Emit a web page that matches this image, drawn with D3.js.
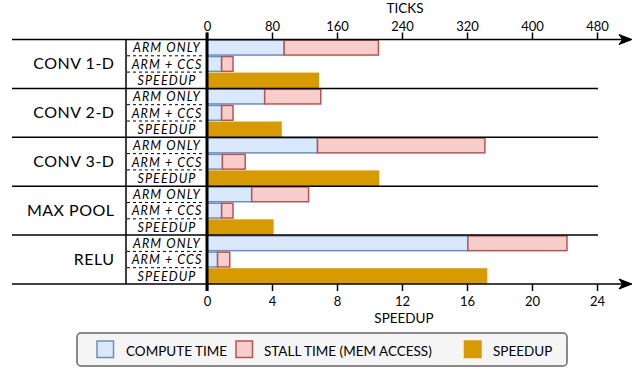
<!DOCTYPE html>
<html>
<head>
<meta charset="utf-8">
<script src="https://cdn.jsdelivr.net/npm/d3@7"></script>
<style>
  body { margin: 0; background: #fff; }
  svg { display: block; font-family: Lato, "Open Sans", sans-serif; }
</style>
</head>
<body>
<svg id="chart" width="641" height="370"></svg>
<script>
// Kernels and the three rows shown for each
const groups = ["CONV 1-D", "CONV 2-D", "CONV 3-D", "MAX POOL", "RELU"];
const rowLabels = ["ARM ONLY", "ARM + CCS", "SPEEDUP"];

// Execution time in ticks: compute part and memory stall part
const armOnlyCompute = [95, 71, 136, 55, 321];
const armOnlyStall   = [116, 69, 206, 70, 122];
const ccsCompute     = [18, 18, 19, 18, 13];
const ccsStall       = [14, 14, 28, 14, 15];

// Speedup of ARM + CCS over ARM only
const speedup = [6.9, 4.6, 10.6, 4.1, 17.25];

// Axis ticks
const tickValues = [0, 80, 160, 240, 320, 400, 480];
const speedupTicks = [0, 4, 8, 12, 16, 20, 24];

const legendItems = ["COMPUTE TIME", "STALL TIME (MEM ACCESS)", "SPEEDUP"];

const colors = {
  computeFill: "#dae8fc", computeStroke: "#6c8ebf",
  stallFill: "#f8cecc", stallStroke: "#b85450",
  speedup: "#d79b00"
};

const svg = d3.select("#chart");

const xT = d3.scaleLinear().domain([0, 480]).range([207, 597]);
const xS = d3.scaleLinear().domain([0, 24]).range([207, 597]);
const yG = d3.scaleBand().domain(groups).range([39.5, 284]);
const yR = d3.scaleBand().domain(rowLabels).range([0, yG.bandwidth()]);

const lineLeft = 12, lineRight = 598, labelX = 126, axisX = xT(0);

// Bars
const barsG = svg.append("g");
groups.forEach((g, i) => {
  const y0 = yG(g);
  const segs = [
    { row: "ARM ONLY", from: 0, to: armOnlyCompute[i], fill: colors.computeFill, stroke: colors.computeStroke },
    { row: "ARM ONLY", from: armOnlyCompute[i], to: armOnlyCompute[i] + armOnlyStall[i], fill: colors.stallFill, stroke: colors.stallStroke },
    { row: "ARM + CCS", from: 0, to: ccsCompute[i], fill: colors.computeFill, stroke: colors.computeStroke },
    { row: "ARM + CCS", from: ccsCompute[i], to: ccsCompute[i] + ccsStall[i], fill: colors.stallFill, stroke: colors.stallStroke }
  ];
  barsG.selectAll(null).data(segs).enter().append("rect")
    .attr("x", d => xT(d.from))
    .attr("y", d => y0 + yR(d.row) + 0.75)
    .attr("width", d => xT(d.to) - xT(d.from))
    .attr("height", yR.bandwidth() - 1.5)
    .attr("fill", d => d.fill)
    .attr("stroke", d => d.stroke)
    .attr("stroke-width", 1.5);
  barsG.append("rect")
    .attr("x", xS(0))
    .attr("y", y0 + yR("SPEEDUP") + 0.5)
    .attr("width", xS(speedup[i]) - xS(0))
    .attr("height", yR.bandwidth() - 0.5)
    .attr("fill", colors.speedup);
});

// Group separators
svg.append("g").selectAll("line").data(groups.slice(1)).enter().append("line")
  .attr("x1", lineLeft).attr("x2", lineRight)
  .attr("y1", d => yG(d)).attr("y2", d => yG(d))
  .attr("stroke", "#000").attr("stroke-width", 1.5);

// Dashed row separators inside the label column
const dashG = svg.append("g");
groups.forEach(g => {
  ["ARM + CCS", "SPEEDUP"].forEach(r => {
    const y = yG(g) + yR(r);
    dashG.append("line")
      .attr("x1", labelX + 1).attr("x2", axisX - 3)
      .attr("y1", y).attr("y2", y)
      .attr("stroke", "#000").attr("stroke-width", 1)
      .attr("stroke-dasharray", "3,3");
  });
});

// Label column border
svg.append("line")
  .attr("x1", labelX).attr("x2", labelX)
  .attr("y1", yG.range()[0]).attr("y2", yG.range()[1])
  .attr("stroke", "#000").attr("stroke-width", 1.5);

// Group labels
svg.append("g").selectAll("text").data(groups).enter().append("text")
  .attr("x", 114.5)
  .attr("y", d => yG(d) + yG.bandwidth() / 2 + 5.5)
  .attr("text-anchor", "end")
  .attr("font-size", 16)
  .attr("letter-spacing", 0.5)
  .text(d => d);

// Row labels
const rowG = svg.append("g");
groups.forEach(g => {
  rowG.selectAll(null).data(rowLabels).enter().append("text")
    .attr("x", 167)
    .attr("y", r => yG(g) + yR(r) + yR.bandwidth() / 2 + 4.8)
    .attr("text-anchor", "middle")
    .attr("font-size", 12.5)
    .attr("font-style", "italic")
    .attr("letter-spacing", 1.1)
    .text(r => r);
});

// Top axis (ticks)
const topY = yG.range()[0];
const topAxis = svg.append("g")
  .attr("transform", `translate(0,${topY})`)
  .call(d3.axisTop(xT).tickValues(tickValues).tickSize(7).tickPadding(2));
// Bottom axis (speedup)
const botY = yG.range()[1];
const botAxis = svg.append("g")
  .attr("transform", `translate(0,${botY})`)
  .call(d3.axisBottom(xS).tickValues(speedupTicks).tickSize(7).tickPadding(6));

[topAxis, botAxis].forEach(ax => {
  ax.select(".domain").remove();
  ax.selectAll(".tick line").attr("stroke", "#000").attr("stroke-width", 1.5);
  ax.selectAll(".tick text").attr("fill", "#000").attr("font-size", 13)
    .attr("font-family", "Lato, sans-serif");
});

// Axis lines with arrowheads
[topY, botY].forEach(y => {
  svg.append("line")
    .attr("x1", lineLeft).attr("x2", 622)
    .attr("y1", y).attr("y2", y)
    .attr("stroke", "#000").attr("stroke-width", 1.5);
  svg.append("path")
    .attr("d", `M632,${y} L619,${y - 5} L622.5,${y} L619,${y + 5} Z`)
    .attr("fill", "#000").attr("stroke", "#000").attr("stroke-width", 1);
});

// Thick zero line shared by both axes
svg.append("line")
  .attr("x1", axisX).attr("x2", axisX)
  .attr("y1", topY - 7).attr("y2", botY + 7)
  .attr("stroke", "#000").attr("stroke-width", 3);

// Axis titles
svg.append("text").attr("x", 405).attr("y", 12.5)
  .attr("text-anchor", "middle").attr("font-size", 13.5).text("TICKS");
svg.append("text").attr("x", 404).attr("y", 323)
  .attr("text-anchor", "middle").attr("font-size", 13.5).text("SPEEDUP");

// Legend
const legend = svg.append("g");
legend.append("rect")
  .attr("x", 77).attr("y", 333).attr("width", 490).attr("height", 33)
  .attr("rx", 4).attr("fill", "#f5f5f5").attr("stroke", "#666").attr("stroke-width", 1.5);
const legendX = [97, 236, 464.5];
const legendTextX = [126, 264, 493];
const legendFill = [colors.computeFill, colors.stallFill, colors.speedup];
const legendStroke = [colors.computeStroke, colors.stallStroke, colors.speedup];
legendItems.forEach((t, i) => {
  legend.append("rect")
    .attr("x", legendX[i]).attr("y", 341).attr("width", 16.5).attr("height", 16.5)
    .attr("fill", legendFill[i]).attr("stroke", legendStroke[i]).attr("stroke-width", 1.5);
  legend.append("text")
    .attr("x", legendTextX[i]).attr("y", 355.5)
    .attr("font-size", 13.5).text(t);
});
</script>
</body>
</html>
